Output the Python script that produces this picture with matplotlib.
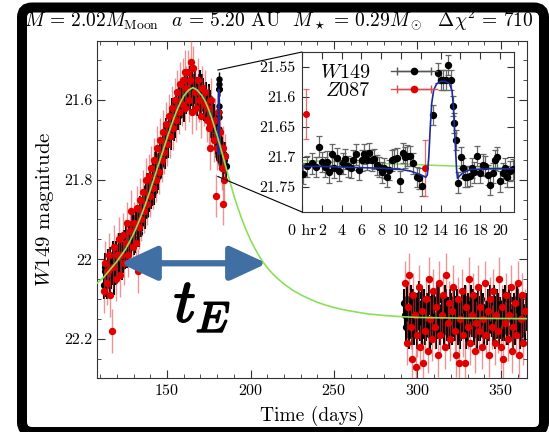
import matplotlib
matplotlib.use("Agg")
import matplotlib.pyplot as plt
import matplotlib.patheffects as pe
import numpy as np
from matplotlib.legend_handler import HandlerLine2D
from matplotlib.lines import Line2D
from matplotlib.patches import ConnectionPatch, FancyBboxPatch
from matplotlib.ticker import FixedLocator, FuncFormatter, MultipleLocator
from matplotlib.transforms import IdentityTransform

plt.rcParams["font.family"] = "serif"
plt.rcParams["font.serif"] = ["cmr10"]
plt.rcParams["mathtext.fontset"] = "cm"
plt.rcParams["axes.formatter.use_mathtext"] = True
plt.rcParams["axes.unicode_minus"] = False

# --- W149 light curve, main event (days, magnitude) ---
w149_rise_day = [
    112, 113, 114, 115, 116, 117, 118, 119, 120, 121,
    122, 123, 124, 125, 126, 127, 128, 129, 130, 131,
    132, 133, 134, 135, 136, 137, 138, 139, 140, 141,
    142, 143, 144, 145, 146, 147, 148, 149, 150, 151,
    152, 153, 154, 155, 156, 157, 158, 159, 160, 161,
    162, 163, 164, 165, 166, 167, 168, 169, 170, 171,
    172, 173, 174, 175, 176, 177, 178, 179, 180, 181,
    182, 183, 184, 185,
    112.5, 113.5, 114.5, 115.5, 116.5, 117.5, 118.5, 119.5, 120.5, 121.5,
    122.5, 123.5, 124.5, 125.5, 126.5, 127.5, 128.5, 129.5, 130.5, 131.5,
    132.5, 133.5, 134.5, 135.5, 136.5, 137.5, 138.5, 139.5, 140.5, 141.5,
    142.5, 143.5, 144.5, 145.5, 146.5, 147.5, 148.5, 149.5, 150.5, 151.5,
    152.5, 153.5, 154.5, 155.5, 156.5, 157.5, 158.5, 159.5, 160.5, 161.5,
    162.5, 163.5, 164.5, 165.5, 166.5, 167.5, 168.5, 169.5, 170.5, 171.5,
    172.5, 173.5, 174.5, 175.5, 176.5, 177.5, 178.5, 179.5,
    181.5, 182.5, 183.5, 184.5,
]
w149_rise_mag = [
    22.065, 22.030, 22.065, 22.030, 22.005, 22.030, 22.055, 22.000, 22.025, 21.969,
    22.003, 22.017, 21.961, 21.975, 21.987, 21.949, 21.961, 21.913, 21.955, 21.925,
    21.905, 21.935, 21.875, 21.895, 21.873, 21.881, 21.819, 21.847, 21.815, 21.832,
    21.829, 21.766, 21.773, 21.770, 21.737, 21.754, 21.701, 21.738, 21.695, 21.673,
    21.681, 21.629, 21.667, 21.635, 21.636, 21.597, 21.628, 21.589, 21.620, 21.585,
    21.560, 21.585, 21.592, 21.560, 21.570, 21.562, 21.605, 21.570, 21.605, 21.570,
    21.619, 21.597, 21.616, 21.595, 21.639, 21.671, 21.644, 21.678, 21.690, 21.695,
    21.742, 21.735, 21.751, 21.765,
    22.02, 22.06, 22.01, 22.05, 22.04, 21.99, 22.03, 21.99, 22.02, 21.98,
    21.97, 22.00, 21.99, 21.95, 21.98, 21.94, 21.96, 21.92, 21.95, 21.90,
    21.93, 21.89, 21.91, 21.86, 21.89, 21.84, 21.86, 21.81, 21.84, 21.79,
    21.81, 21.76, 21.79, 21.74, 21.76, 21.71, 21.73, 21.68, 21.71, 21.66,
    21.69, 21.64, 21.66, 21.61, 21.64, 21.60, 21.59, 21.61, 21.57, 21.60,
    21.59, 21.55, 21.58, 21.59, 21.55, 21.58, 21.59, 21.56, 21.60, 21.58,
    21.62, 21.59, 21.64, 21.61, 21.66, 21.64, 21.69, 21.67,
    21.73, 21.71, 21.76, 21.74,
]

# --- W149 baseline season ---
w149_base_day = [
    292, 293, 294, 295, 296, 297, 298, 299, 300, 301,
    302, 303, 304, 305, 306, 307, 308, 309, 310, 311,
    312, 313, 314, 315, 316, 317, 318, 319, 320, 321,
    322, 323, 324, 325, 326, 327, 328, 329, 330, 331,
    332, 333, 334, 335, 336, 337, 338, 339, 340, 341,
    342, 343, 344, 345, 346, 347, 348, 349, 350, 351,
    352, 353, 354, 355, 356, 357, 358, 359, 360, 361,
    362, 363, 364, 365,
    292.5, 293.5, 294.5, 295.5, 296.5, 297.5, 298.5, 299.5, 300.5, 301.5,
    302.5, 303.5, 304.5, 305.5, 306.5, 307.5, 308.5, 309.5, 310.5, 311.5,
    312.5, 313.5, 314.5, 315.5, 316.5, 317.5, 318.5, 319.5, 320.5, 321.5,
    322.5, 323.5, 324.5, 325.5, 326.5, 327.5, 328.5, 329.5, 330.5, 331.5,
    332.5, 333.5, 334.5, 335.5, 336.5, 337.5, 338.5, 339.5, 340.5, 341.5,
    342.5, 343.5, 344.5, 345.5, 346.5, 347.5, 348.5, 349.5, 350.5, 351.5,
    352.5, 353.5, 354.5, 355.5, 356.5, 357.5, 358.5, 359.5, 360.5, 361.5,
    362.5, 363.5, 364.5,
]
w149_base_mag = [
    22.11, 22.17, 22.13, 22.19, 22.10, 22.15, 22.18, 22.12, 22.16, 22.09,
    22.14, 22.19, 22.11, 22.17, 22.13, 22.10, 22.18, 22.15, 22.12, 22.19,
    22.14, 22.10, 22.16, 22.13, 22.18, 22.11, 22.15, 22.19, 22.12, 22.16,
    22.10, 22.14, 22.18, 22.13, 22.17, 22.11, 22.15, 22.19, 22.12, 22.16,
    22.10, 22.14, 22.18, 22.12, 22.17, 22.13, 22.10, 22.16, 22.19, 22.14,
    22.11, 22.17, 22.13, 22.18, 22.10, 22.15, 22.12, 22.19, 22.14, 22.11,
    22.17, 22.13, 22.18, 22.10, 22.15, 22.19, 22.12, 22.16, 22.11, 22.14,
    22.18, 22.13, 22.16, 22.12,
    22.14, 22.10, 22.16, 22.12, 22.18, 22.11, 22.14, 22.19, 22.13, 22.17,
    22.11, 22.15, 22.18, 22.12, 22.16, 22.19, 22.11, 22.14, 22.17, 22.10,
    22.16, 22.18, 22.12, 22.15, 22.10, 22.17, 22.13, 22.11, 22.18, 22.14,
    22.17, 22.11, 22.15, 22.19, 22.12, 22.16, 22.10, 22.14, 22.18, 22.13,
    22.16, 22.11, 22.15, 22.19, 22.10, 22.17, 22.14, 22.12, 22.16, 22.18,
    22.13, 22.10, 22.16, 22.14, 22.19, 22.11, 22.16, 22.13, 22.17, 22.15,
    22.10, 22.18, 22.14, 22.12, 22.17, 22.13, 22.18, 22.10, 22.15, 22.19,
    22.12, 22.15, 22.17,
]
w149_err = 0.035

# --- Z087 light curve ---
z087_rise_day = [
    112.3, 113.0, 113.7, 114.4, 115.1, 115.8, 116.9, 117.6, 118.3, 119.2,
    120.0, 120.9, 121.7, 122.6, 123.4, 124.2, 125.1, 126.0, 126.8, 127.7,
    128.5, 129.4, 130.3, 131.1, 132.0, 132.8, 132.9, 133.7, 134.6, 135.5,
    136.3, 137.2, 138.0, 138.9, 139.8, 140.6, 141.5, 142.4, 143.2, 144.1,
    145.0, 145.8, 146.7, 147.6, 148.4, 149.3, 150.2, 151.0, 151.9, 152.8,
    153.6, 154.5, 155.4, 156.2, 157.1, 158.0, 158.8, 159.7, 160.6, 160.8,
    161.4, 162.3, 163.2, 164.0, 164.6, 164.9, 165.8, 166.6, 167.5, 168.4,
    169.2, 170.1, 171.0, 171.8, 172.7, 173.6, 174.4, 175.3, 175.7, 176.2,
    177.0, 177.9, 178.8, 179.3, 179.6, 181.8, 182.6, 183.3, 183.5, 184.3,
    184.8,
]
z087_rise_mag = [
    22.08, 22.01, 22.06, 22.03, 21.99, 22.09, 22.18, 22.02, 21.97, 22.05,
    21.99, 21.95, 22.04, 21.99, 21.94, 22.01, 21.96, 21.91, 21.99, 21.93,
    21.88, 21.97, 21.91, 21.96, 21.87, 22.03, 21.92, 21.85, 21.90, 21.83,
    21.88, 21.80, 21.86, 21.79, 21.84, 21.77, 21.82, 21.75, 21.80, 21.72,
    21.78, 21.70, 21.75, 21.68, 21.73, 21.66, 21.71, 21.64, 21.69, 21.62,
    21.67, 21.60, 21.65, 21.58, 21.63, 21.56, 21.61, 21.55, 21.62, 21.53,
    21.57, 21.53, 21.60, 21.55, 21.505, 21.63, 21.52, 21.58, 21.62, 21.55,
    21.60, 21.64, 21.57, 21.61, 21.58, 21.65, 21.62, 21.67, 21.72, 21.60,
    21.66, 21.70, 21.65, 21.84, 21.72, 21.68, 21.77, 21.86, 21.72, 21.80,
    21.74,
]
z087_base_day = [
    292.8, 293.6, 294.3, 295.1, 295.9, 296.8, 297.5, 298.4, 299.2, 300.0,
    300.9, 301.7, 302.6, 303.4, 304.3, 305.1, 306.0, 306.8, 307.7, 308.5,
    309.4, 310.2, 311.1, 312.0, 312.8, 313.7, 314.5, 315.4, 316.2, 317.1,
    318.0, 318.8, 319.7, 320.5, 321.4, 322.2, 323.1, 324.0, 324.8, 325.7,
    326.5, 327.4, 328.3, 329.1, 330.0, 330.8, 331.7, 332.6, 333.4, 334.3,
    335.1, 336.0, 336.9, 337.7, 338.6, 339.4, 340.3, 341.2, 342.0, 342.9,
    343.7, 344.6, 345.5, 346.3, 347.2, 348.0, 348.9, 349.8, 350.6, 351.5,
    352.3, 353.2, 354.1, 354.9, 355.8, 356.6, 357.5, 358.4, 359.2, 360.1,
    360.9, 361.8, 362.7, 363.5, 364.4,
]
z087_base_mag = [
    22.06, 22.21, 22.12, 22.04, 22.17, 22.25, 22.09, 22.14, 22.27, 22.19,
    22.07, 22.22, 22.13, 22.26, 22.18, 22.10, 22.23, 22.05, 22.15, 22.20,
    22.08, 22.17, 22.12, 22.24, 22.06, 22.19, 22.14, 22.09, 22.22, 22.04,
    22.16, 22.11, 22.20, 22.13, 22.07, 22.18, 22.24, 22.10, 22.26, 22.15,
    22.08, 22.19, 22.26, 22.12, 22.17, 22.05, 22.21, 22.14, 22.09, 22.23,
    22.16, 22.07, 22.18, 22.12, 22.22, 22.15, 22.06, 22.19, 22.13, 22.24,
    22.10, 22.17, 22.08, 22.21, 22.14, 22.18, 22.05, 22.22, 22.12, 22.25,
    22.16, 22.09, 22.20, 22.14, 22.07, 22.23, 22.17, 22.11, 22.19, 22.06,
    22.24, 22.15, 22.09, 22.21, 22.13,
]
z087_err = 0.055

# --- single-lens model (green) ---
model_day = [108, 110, 112, 114, 116, 118, 120, 122.5, 125, 127.5, 130, 132.5,
             135, 137.5, 140, 142.5, 145, 147.5, 150, 152.5, 155, 157.5, 160,
             161.5, 163, 165.5, 168, 171, 173, 175, 177.5, 180, 182.5, 185,
             187.5, 190, 192.5, 195, 197.5, 200, 202.5, 205, 207.5, 210, 212.5,
             215, 220, 225, 230, 235, 240, 245, 250, 255, 260, 270, 280, 290,
             300, 330, 366]
model_mag = [22.06, 22.053, 22.045, 22.035, 22.025, 22.015, 22.005, 21.99,
             21.975, 21.956, 21.935, 21.911, 21.885, 21.856, 21.825, 21.793,
             21.76, 21.728, 21.695, 21.664, 21.635, 21.61, 21.59, 21.582,
             21.575, 21.569, 21.575, 21.59, 21.605, 21.625, 21.656, 21.69,
             21.727, 21.765, 21.803, 21.84, 21.872, 21.902, 21.928, 21.952,
             21.972, 21.991, 22.007, 22.021, 22.033, 22.044, 22.062, 22.077,
             22.089, 22.099, 22.108, 22.115, 22.121, 22.126, 22.13, 22.137,
             22.141, 22.144, 22.146, 22.148, 22.149]

# --- planetary anomaly, hours after its start ---
ANOMALY_DAY = 180.3
anom_hr = [0.07, 0.54, 0.98, 1.41, 1.68, 1.99, 2.32, 2.49, 2.76, 3.00,
           3.23, 3.50, 3.77, 4.10, 4.38, 4.68, 4.92, 5.19, 5.45, 5.72,
           6.03, 6.26, 6.53, 6.80, 7.04, 7.31, 7.54, 7.81, 8.05, 8.28,
           8.55, 8.82, 9.06, 9.29, 9.56, 9.90, 10.17, 10.40, 10.64, 10.91,
           11.25, 11.58, 11.85, 12.09, 13.27, 13.77, 14.00, 14.28, 14.55, 14.78,
           15.00, 15.20, 15.35, 15.56, 15.79, 16.03, 16.30, 16.50, 16.70, 16.97,
           17.17, 17.40, 17.71, 17.98, 18.25, 18.48, 18.75, 18.99, 19.26, 19.49,
           19.73, 20.00, 20.27, 20.50, 20.74, 21.00, 21.28]
anom_mag = [21.728, 21.716, 21.711, 21.717, 21.683, 21.709, 21.717, 21.708, 21.726, 21.696,
            21.719, 21.702, 21.723, 21.711, 21.704, 21.716, 21.719, 21.705, 21.696, 21.722,
            21.706, 21.695, 21.705, 21.694, 21.706, 21.704, 21.714, 21.717, 21.726, 21.719,
            21.734, 21.722, 21.706, 21.704, 21.702, 21.741, 21.694, 21.701, 21.698, 21.699,
            21.711, 21.734, 21.736, 21.749, 21.630, 21.560, 21.572, 21.572, 21.572, 21.547,
            21.572, 21.615, 21.644, 21.672, 21.743, 21.701, 21.719, 21.734, 21.733, 21.732,
            21.719, 21.726, 21.699, 21.727, 21.713, 21.715, 21.730, 21.747, 21.727, 21.705,
            21.701, 21.741, 21.727, 21.719, 21.733, 21.724, 21.721]
anom_err = 0.017
anom_z_hr = [0.40, 12.42]
anom_z_mag = [21.629, 21.719]
anom_z_err = [0.042, 0.047]

planet_hr = [0, 2, 4, 6, 8, 10, 11, 12, 12.5, 12.65, 12.8, 12.95, 13.1, 13.3,
             13.6, 14.0, 14.5, 14.9, 15.15, 15.3, 15.45, 15.6, 15.7, 15.9,
             16.3, 17, 19, 21.4]
planet_mag = [21.716, 21.716, 21.717, 21.718, 21.719, 21.721, 21.724, 21.73,
              21.734, 21.73, 21.70, 21.65, 21.61, 21.588, 21.578, 21.574,
              21.574, 21.578, 21.59, 21.62, 21.67, 21.72, 21.736, 21.732,
              21.726, 21.721, 21.72, 21.72]
inset_model_hr = [0, 21.4]
inset_model_mag = [21.706, 21.719]

inset_ticks = [0, 2, 4, 6, 8, 10, 12, 14, 16, 18, 20]
inset_tick_labels = ["0 hr", "2", "4", "6", "8", "10", "12", "14", "16", "18", "20"]

# Einstein crossing time marker
tE_start, tE_end, tE_mag = 121.9, 209.7, 22.01

title = (r"$M\,=\,2.02M_{\rm Moon}$  $a\,=\,5.20$ AU  "
         r"$M_\star\,=\,0.29M_\odot$  $\Delta\chi^2\,=\,710$")

RED = "#e00000"
RED_BAR = (0.85, 0.25, 0.25, 0.55)
GREEN = "#8be05a"
BLUE = "#1c2a9c"
ARROW = "#3f6fa3"

fig = plt.figure(figsize=(5.49, 4.32), dpi=100)
ax = fig.add_axes([0.1767, 0.125, 0.7832, 0.7801])

anom_day = ANOMALY_DAY + np.array(anom_hr) / 24
anom_z_day = ANOMALY_DAY + np.array(anom_z_hr) / 24
planet_day = ANOMALY_DAY + np.array(planet_hr) / 24

for d, m in [(w149_rise_day, w149_rise_mag), (w149_base_day, w149_base_mag)]:
    ax.errorbar(d, m, yerr=w149_err, fmt="o", ms=4.2, color="k", ecolor="k",
                elinewidth=1.5, capsize=0, zorder=2)
ax.errorbar(anom_day, anom_mag, yerr=anom_err, fmt="o", ms=3.6, color="k",
            ecolor="k", elinewidth=1.0, capsize=0, zorder=2)
for d, m in [(z087_rise_day, z087_rise_mag), (z087_base_day, z087_base_mag)]:
    ax.errorbar(d, m, yerr=z087_err, fmt="o", ms=4.3, color=RED, ecolor=RED_BAR,
                elinewidth=1.0, capsize=0, zorder=3)
ax.errorbar(anom_z_day, anom_z_mag, yerr=anom_z_err, fmt="o", ms=4.3, color=RED,
            ecolor=RED_BAR, elinewidth=1.0, capsize=0, zorder=3)
ax.plot(planet_day, planet_mag, color=BLUE, lw=1.3, zorder=4)
ax.plot(model_day, model_mag, color=GREEN, lw=1.2, zorder=5)

ax.set_xlim(108, 365.6)
ax.set_ylim(22.298, 21.452)
ax.xaxis.set_major_locator(MultipleLocator(50))
ax.xaxis.set_minor_locator(MultipleLocator(10))
ax.yaxis.set_major_locator(MultipleLocator(0.2))
ax.yaxis.set_minor_locator(MultipleLocator(0.05))
ax.yaxis.set_major_formatter(FuncFormatter(lambda v, p: f"{v:g}"))
ax.tick_params(which="both", direction="in", top=True, right=True,
               labelsize=11.5, color="#333333")
ax.tick_params(which="major", length=6)
ax.tick_params(which="minor", length=3)
for s in ax.spines.values():
    s.set_color("#333333")
ax.set_xlabel("Time (days)", fontsize=14)
ax.set_ylabel(r"$W149$ magnitude", fontsize=15)
ax.yaxis.set_label_coords(-0.095, 0.5)
ax.xaxis.set_label_coords(0.5, -0.083)

# t_E arrow and label
ann = ax.annotate("", xy=(tE_end, tE_mag), xytext=(tE_start, tE_mag),
                  arrowprops=dict(arrowstyle="<|-|>,head_length=1.4,head_width=0.65",
                                  mutation_scale=16, lw=4.5, color=ARROW,
                                  shrinkA=0, shrinkB=0),
                  zorder=10)
ann.arrow_patch.set_path_effects([pe.SimplePatchShadow(offset=(1.5, -2), alpha=0.35),
                                  pe.Normal()])
ax.text(171, 22.118, r"$t_E$", fontsize=44, ha="center", va="center", zorder=10,
        path_effects=[pe.withStroke(linewidth=1.4, foreground="k")])

# zoomed view of the planetary anomaly
axins = fig.add_axes([0.5501, 0.5093, 0.3861, 0.3703])
axins.errorbar(anom_hr, anom_mag, yerr=anom_err, fmt="o", ms=4.3, color="k",
               ecolor="#666666", elinewidth=0.9, capsize=2, capthick=0.9, zorder=3)
axins.errorbar(anom_z_hr, anom_z_mag, yerr=anom_z_err, fmt="o", ms=4, color=RED,
               ecolor=(0.85, 0.3, 0.3, 0.8), elinewidth=0.9, capsize=2,
               capthick=0.9, zorder=3)
axins.plot(inset_model_hr, inset_model_mag, color=GREEN, lw=1.1, zorder=2)
axins.plot(planet_hr, planet_mag, color=BLUE, lw=1.2, zorder=4)
axins.set_xlim(0, 21.4)
axins.set_ylim(21.792, 21.525)
axins.xaxis.set_major_locator(FixedLocator(inset_ticks))
axins.set_xticklabels(inset_tick_labels)
axins.yaxis.set_major_locator(MultipleLocator(0.05))
axins.yaxis.set_major_formatter(FuncFormatter(lambda v, p: f"{v:g}"))
axins.tick_params(direction="in", top=True, right=True, length=5,
                  labelsize=11.5, color="#333333", pad=5)
axins.tick_params(axis="x", pad=9)
for s in axins.spines.values():
    s.set_color("#333333")

cap_k = Line2D([], [], color="#555555", lw=1, marker="|", ms=6, mew=1)
dot_k = Line2D([], [], color="#555555", lw=1, marker="o", ms=4.5, mfc="k", mec="k")
cap_r = Line2D([], [], color=(0.85, 0.3, 0.3), lw=1, marker="|", ms=6, mew=1)
dot_r = Line2D([], [], color=(0.85, 0.3, 0.3), lw=1, marker="o", ms=4.5,
               mfc=RED, mec=RED)
axins.legend([(cap_k, dot_k), (cap_r, dot_r)], [r"$W149$", r"$Z087$"],
             handler_map={cap_k: HandlerLine2D(numpoints=2),
                          cap_r: HandlerLine2D(numpoints=2)},
             numpoints=1, loc="upper left", bbox_to_anchor=(0.03, 1.0),
             frameon=False, fontsize=14.5, markerfirst=False, handlelength=2.3,
             handletextpad=1.0, labelspacing=0.0, borderpad=0.1)

for y in (21.525, 21.792):
    con = ConnectionPatch(xyA=(0, y), coordsA=axins.transData,
                          xyB=(ANOMALY_DAY, y), coordsB=ax.transData,
                          color="k", lw=0.8)
    fig.add_artist(con)

fig.text(24 / 549, 1 - 20 / 432, title, fontsize=14, ha="left", va="center")

# rounded black frame round the panel
frame = FancyBboxPatch((22, 0), 522, 424.5, boxstyle="round,pad=0,rounding_size=10",
                       transform=IdentityTransform(), facecolor="none",
                       edgecolor="k", lw=7.2, zorder=20)
fig.add_artist(frame)

fig.savefig("out.png", dpi=100)
